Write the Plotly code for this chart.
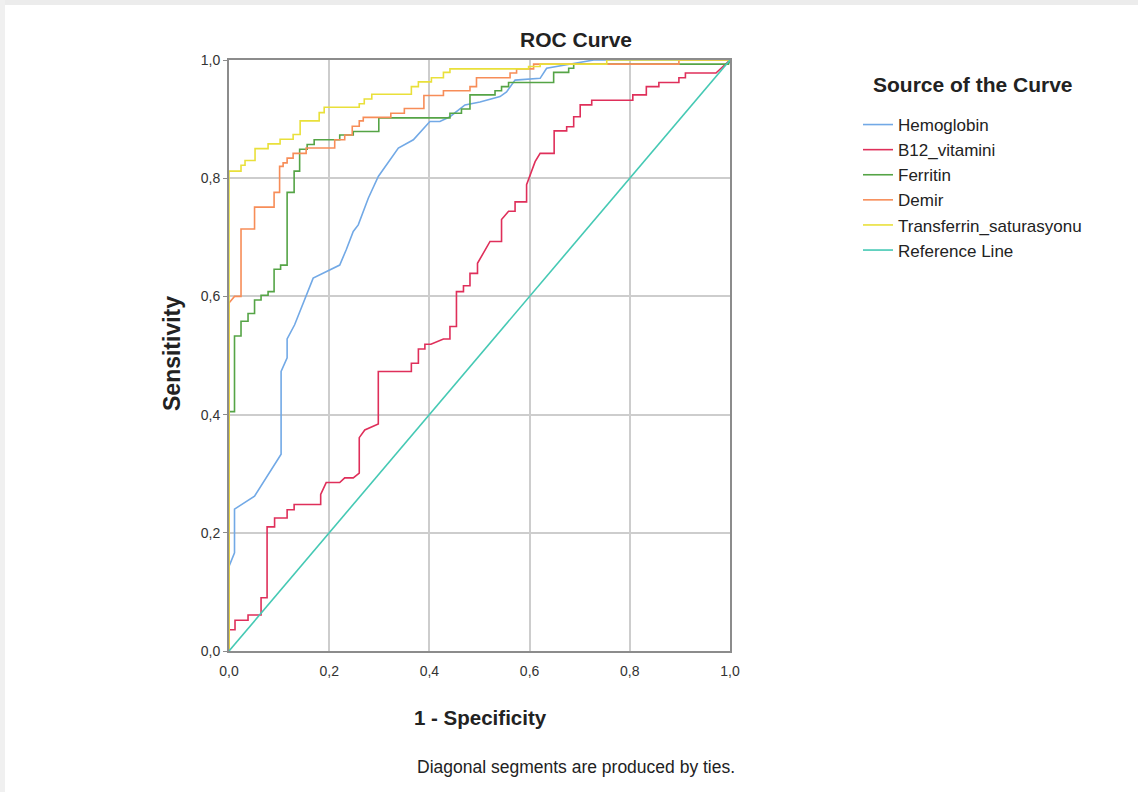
import plotly.graph_objects as go

# ROC coordinates (1 - specificity, sensitivity) for each marker
hemoglobin_fpr = [0, 0, 0.011, 0.011, 0.051, 0.101, 0.104, 0.104, 0.116, 0.116,
                  0.131, 0.168, 0.221, 0.234, 0.248, 0.258, 0.278, 0.298, 0.338, 0.368,
                  0.401, 0.421, 0.441, 0.471, 0.501, 0.541, 0.554, 0.571, 0.621, 0.634,
                  0.674, 0.728, 1.0]
hemoglobin_sens = [0, 0.143, 0.166, 0.240, 0.262, 0.329, 0.333, 0.473, 0.496, 0.528,
                   0.552, 0.631, 0.653, 0.679, 0.710, 0.721, 0.766, 0.803, 0.851, 0.865,
                   0.896, 0.896, 0.904, 0.924, 0.929, 0.938, 0.946, 0.966, 0.969, 0.986,
                   0.992, 1.0, 1.0]

b12_fpr = [0, 0, 0.012, 0.012, 0.038, 0.038, 0.064, 0.064, 0.076, 0.076,
           0.091, 0.091, 0.116, 0.116, 0.130, 0.130, 0.183, 0.183, 0.194, 0.221,
           0.231, 0.248, 0.260, 0.260, 0.271, 0.298, 0.298, 0.364, 0.364, 0.378,
           0.378, 0.391, 0.391, 0.403, 0.428, 0.441, 0.441, 0.454, 0.454, 0.468,
           0.468, 0.481, 0.481, 0.496, 0.496, 0.511, 0.521, 0.544, 0.544, 0.558,
           0.571, 0.571, 0.594, 0.594, 0.611, 0.621, 0.649, 0.649, 0.674, 0.674,
           0.688, 0.688, 0.701, 0.701, 0.724, 0.724, 0.806, 0.806, 0.833, 0.833,
           0.858, 0.858, 0.898, 0.898, 0.911, 0.911, 0.972, 1.0]
b12_sens = [0, 0.036, 0.036, 0.052, 0.052, 0.061, 0.061, 0.090, 0.090, 0.210,
            0.210, 0.225, 0.225, 0.239, 0.239, 0.248, 0.248, 0.265, 0.285, 0.285,
            0.293, 0.293, 0.301, 0.361, 0.374, 0.384, 0.473, 0.473, 0.487, 0.487,
            0.511, 0.511, 0.519, 0.519, 0.528, 0.528, 0.549, 0.549, 0.608, 0.608,
            0.618, 0.618, 0.639, 0.639, 0.656, 0.679, 0.693, 0.693, 0.730, 0.744,
            0.744, 0.760, 0.760, 0.789, 0.828, 0.842, 0.842, 0.880, 0.880, 0.887,
            0.887, 0.904, 0.904, 0.924, 0.924, 0.932, 0.932, 0.941, 0.941, 0.955,
            0.955, 0.962, 0.962, 0.970, 0.970, 0.978, 0.978, 1.0]

ferritin_fpr = [0, 0, 0.011, 0.011, 0.024, 0.024, 0.038, 0.038, 0.051, 0.051,
                0.064, 0.064, 0.078, 0.078, 0.090, 0.090, 0.103, 0.103, 0.116, 0.116,
                0.130, 0.130, 0.141, 0.141, 0.156, 0.156, 0.170, 0.170, 0.221, 0.221,
                0.248, 0.248, 0.299, 0.299, 0.441, 0.441, 0.464, 0.464, 0.481, 0.481,
                0.531, 0.531, 0.544, 0.544, 0.558, 0.558, 0.648, 0.648, 0.678, 0.678,
                0.688, 0.688, 0.997, 1.0]
ferritin_sens = [0, 0.405, 0.405, 0.533, 0.533, 0.558, 0.558, 0.571, 0.571, 0.594,
                 0.594, 0.602, 0.602, 0.608, 0.608, 0.646, 0.646, 0.653, 0.653, 0.776,
                 0.776, 0.812, 0.812, 0.849, 0.849, 0.857, 0.857, 0.865, 0.865, 0.873,
                 0.873, 0.879, 0.879, 0.902, 0.902, 0.910, 0.910, 0.917, 0.917, 0.941,
                 0.941, 0.948, 0.948, 0.955, 0.955, 0.962, 0.962, 0.979, 0.979, 0.986,
                 0.986, 0.993, 0.993, 1.0]

demir_fpr = [0, 0, 0.011, 0.024, 0.024, 0.051, 0.051, 0.090, 0.090, 0.101,
             0.101, 0.108, 0.108, 0.116, 0.116, 0.128, 0.128, 0.154, 0.154, 0.211,
             0.211, 0.231, 0.231, 0.246, 0.246, 0.260, 0.260, 0.268, 0.268, 0.323,
             0.323, 0.350, 0.350, 0.389, 0.389, 0.428, 0.428, 0.481, 0.481, 0.494,
             0.494, 0.561, 0.561, 0.574, 0.574, 0.608, 0.608, 0.898, 0.898, 1.0]
demir_sens = [0, 0.589, 0.600, 0.600, 0.714, 0.714, 0.751, 0.751, 0.776, 0.776,
              0.820, 0.820, 0.826, 0.826, 0.834, 0.834, 0.842, 0.842, 0.851, 0.851,
              0.865, 0.865, 0.873, 0.873, 0.888, 0.888, 0.897, 0.897, 0.903, 0.903,
              0.910, 0.910, 0.918, 0.918, 0.940, 0.940, 0.948, 0.948, 0.955, 0.955,
              0.970, 0.970, 0.978, 0.978, 0.985, 0.985, 0.993, 0.993, 1.0, 1.0]

transferrin_fpr = [0, 0, 0.024, 0.024, 0.032, 0.032, 0.052, 0.052, 0.078, 0.078,
                   0.102, 0.102, 0.128, 0.128, 0.142, 0.142, 0.180, 0.180, 0.190, 0.190,
                   0.260, 0.260, 0.270, 0.270, 0.285, 0.285, 0.364, 0.364, 0.378, 0.378,
                   0.404, 0.404, 0.428, 0.428, 0.441, 0.441, 0.598, 0.598, 0.621, 0.621,
                   0.754, 0.754, 1.0]
transferrin_sens = [0, 0.812, 0.812, 0.822, 0.822, 0.830, 0.830, 0.850, 0.850, 0.858,
                    0.858, 0.866, 0.866, 0.874, 0.874, 0.897, 0.897, 0.911, 0.911, 0.920,
                    0.920, 0.926, 0.926, 0.934, 0.934, 0.942, 0.942, 0.955, 0.955, 0.963,
                    0.963, 0.970, 0.970, 0.979, 0.979, 0.985, 0.985, 0.989, 0.989, 0.993,
                    0.993, 1.0, 1.0]

reference_x = [0, 1]
reference_y = [0, 1]

tick_vals = [0, 0.2, 0.4, 0.6, 0.8, 1.0]
tick_text = ["0,0", "0,2", "0,4", "0,6", "0,8", "1,0"]

FONT = "Liberation Sans, Arial, sans-serif"

curves = [
    ("Hemoglobin", hemoglobin_fpr, hemoglobin_sens, "#72a9e6"),
    ("B12_vitamini", b12_fpr, b12_sens, "#df2f5a"),
    ("Ferritin", ferritin_fpr, ferritin_sens, "#55a446"),
    ("Demir", demir_fpr, demir_sens, "#f78d58"),
    ("Transferrin_saturasyonu", transferrin_fpr, transferrin_sens, "#e9e03a"),
    ("Reference Line", reference_x, reference_y, "#45c9b4"),
]

fig = go.Figure()
for name, xs, ys, color in curves:
    fig.add_trace(go.Scatter(
        x=xs, y=ys, mode="lines", name=name,
        line=dict(color=color, width=1.6),
        cliponaxis=False,
    ))

axis_common = dict(
    range=[0, 1],
    tickvals=tick_vals,
    ticktext=tick_text,
    showgrid=True,
    gridcolor="#cdcdcd",
    gridwidth=2,
    zeroline=False,
    showline=True,
    linecolor="#8c8c8c",
    linewidth=2,
    mirror=True,
    tickfont=dict(family=FONT, size=14, color="#333333"),
)


def px(x):
    return (x - 229) / 501


def py(y):
    return (651 - y) / 591


fig.update_layout(
    width=1138,
    height=792,
    margin=dict(l=229, r=408, t=60, b=141),
    paper_bgcolor="white",
    plot_bgcolor="white",
    font=dict(family=FONT, color="#222222"),
    xaxis=dict(**axis_common, ticks="", ticklabelstandoff=6),
    yaxis=dict(**axis_common, ticks="outside", ticklen=4, tickcolor="#8c8c8c"),
    showlegend=True,
    legend=dict(
        x=px(858), y=py(107),
        xanchor="left", yanchor="top",
        font=dict(family=FONT, size=17, color="#222222"),
        bgcolor="rgba(0,0,0,0)",
        itemwidth=30,
        tracegroupgap=0,
    ),
    annotations=[
        dict(text="<b>ROC Curve</b>", xref="paper", yref="paper",
             x=px(576), y=py(40), xanchor="center", yanchor="middle",
             showarrow=False, font=dict(family=FONT, size=21, color="#222222")),
        dict(text="<b>Source of the Curve</b>", xref="paper", yref="paper",
             x=px(871), y=py(85), xanchor="left", yanchor="middle",
             showarrow=False, font=dict(family=FONT, size=21, color="#222222")),
        dict(text="<b>Sensitivity</b>", xref="paper", yref="paper",
             x=px(172), y=py(354), xanchor="center", yanchor="middle",
             textangle=-90, showarrow=False,
             font=dict(family=FONT, size=23, color="#222222")),
        dict(text="<b>1 - Specificity</b>", xref="paper", yref="paper",
             x=px(480), y=py(717), xanchor="center", yanchor="middle",
             showarrow=False, font=dict(family=FONT, size=20.5, color="#222222")),
        dict(text="Diagonal segments are produced by ties.", xref="paper", yref="paper",
             x=px(576), y=py(767), xanchor="center", yanchor="middle",
             showarrow=False, font=dict(family=FONT, size=17.5, color="#222222")),
    ],
    shapes=[
        # soft frame along the top and left edges of the page
        dict(type="rect", xref="paper", yref="paper", layer="below",
             x0=px(0), x1=px(1138), y0=py(5), y1=py(0),
             fillcolor="#ececec", line=dict(width=0)),
        dict(type="rect", xref="paper", yref="paper", layer="below",
             x0=px(0), x1=px(5), y0=py(792), y1=py(0),
             fillcolor="#f0f0f0", line=dict(width=0)),
    ],
)

fig.write_html("out.html")
